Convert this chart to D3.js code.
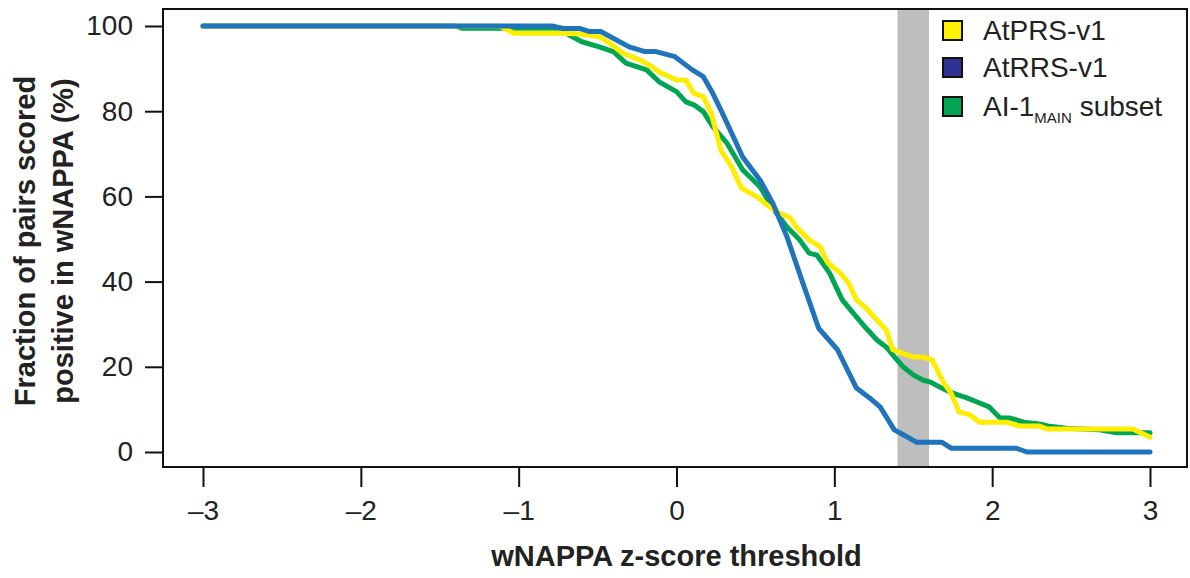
<!DOCTYPE html>
<html>
<head>
<meta charset="utf-8">
<script src="https://cdn.jsdelivr.net/npm/d3@7"></script>
<style>
  body { margin: 0; background: #fff; }
  svg { display: block; font-family: "Liberation Sans", Arial, Helvetica, sans-serif; }
</style>
</head>
<body>
<svg id="chart" width="1190" height="578"></svg>
<script>
// fraction of pairs scored positive (%) vs wNAPPA z-score threshold
var seriesNames = ["AtPRS-v1", "AtRRS-v1", "AI-1 subset"]
var legendColors = ["#fff200", "#2e3192", "#00a651"]
var lineColors = ["#ffed00", "#1f74bb", "#00a651"]

var xTicks = [-3, -2, -1, 0, 1, 2, 3]
var yTicks = [0, 20, 40, 60, 80, 100]
var band = [1.4, 1.6]

var atprs = [[-3,100],[-1.12,100],[-1.03,98.3],[-0.72,98.3],[-0.61,98.1],[-0.49,97.5],[-0.42,95.9],
  [-0.34,93.6],[-0.23,92],[-0.17,90.8],[-0.11,89.2],[0,87.3],[0.06,87.3],[0.11,84.2],[0.17,83.4],
  [0.22,79.6],[0.28,70.9],[0.35,66.9],[0.41,62],[0.51,59.9],[0.59,57.5],[0.65,56.1],[0.72,55],
  [0.76,52.8],[0.84,49.8],[0.91,48.2],[0.96,44.3],[1.03,42.3],[1.09,39.7],[1.14,35.7],[1.2,33.8],
  [1.27,31],[1.33,28.6],[1.37,24],[1.43,23.2],[1.5,22.3],[1.56,22.3],[1.62,21.6],[1.69,16.4],
  [1.74,13.8],[1.79,9.4],[1.86,8.7],[1.92,7],[2.09,7],[2.17,6.1],[2.3,6.1],[2.35,5.4],[2.89,5.4],[3,3.5]]

var atrrs = [[-3,100],[-0.79,100],[-0.72,99.4],[-0.61,99.4],[-0.55,98.7],[-0.48,98.7],[-0.41,97.3],
  [-0.3,95.1],[-0.2,94],[-0.13,94],[-0.01,92.8],[0.1,89.7],[0.17,88.1],[0.23,84.2],[0.29,79.6],
  [0.36,74],[0.42,69.2],[0.53,63.8],[0.61,58.4],[0.7,50.5],[0.8,39.7],[0.9,29.1],[1.02,24],
  [1.14,15],[1.24,12.2],[1.29,10.6],[1.33,8.2],[1.38,5.2],[1.44,4],[1.52,2.3],[1.68,2.3],
  [1.74,0.9],[2.15,0.9],[2.22,0],[3,0]]

var ai1 = [[-3,100],[-1.4,100],[-1.36,99.5],[-0.72,99.5],[-0.68,97.9],[-0.6,96.3],[-0.49,95.1],
  [-0.4,94],[-0.32,91.3],[-0.19,89.7],[-0.11,86.9],[0,84.6],[0.06,82.2],[0.11,81.5],[0.17,79.9],
  [0.23,76.4],[0.32,72.5],[0.42,66.2],[0.53,62.2],[0.61,57.2],[0.7,52.8],[0.78,49.8],[0.84,46.7],
  [0.89,46.2],[0.97,42],[1.05,35.7],[1.12,32.6],[1.2,29.1],[1.27,26.3],[1.33,24.6],[1.37,22.8],
  [1.43,20.2],[1.5,18.1],[1.56,16.9],[1.61,16.4],[1.68,15],[1.75,13.8],[1.84,12.7],[1.92,11.5],
  [1.98,10.6],[2.05,8],[2.11,8],[2.2,7],[2.3,6.6],[2.35,6.1],[2.47,5.6],[2.68,5.2],[2.79,4.5],[3,4.5]]

var svg = d3.select("#chart")

var frame = { left: 163, right: 1187, top: 9, bottom: 467 }

var x = d3.scaleLinear().domain([-3, 3]).range([203, 1150])
var y = d3.scaleLinear().domain([0, 100]).range([452, 26])

// threshold band
svg.append("rect")
  .attr("x", x(band[0]))
  .attr("y", frame.top)
  .attr("width", x(band[1]) - x(band[0]))
  .attr("height", frame.bottom - frame.top)
  .attr("fill", "#bebebe")

// lines: green first, then yellow, blue on top
var line = d3.line().x(d => x(d[0])).y(d => y(d[1]))
var drawOrder = [[ai1, 2], [atprs, 0], [atrrs, 1]]
drawOrder.forEach(function(s) {
  svg.append("path")
    .datum(s[0])
    .attr("d", line)
    .attr("fill", "none")
    .attr("stroke", lineColors[s[1]])
    .attr("stroke-width", 5)
    .attr("stroke-linejoin", "round")
    .attr("stroke-linecap", "round")
})

// box
svg.append("rect")
  .attr("x", frame.left)
  .attr("y", frame.top)
  .attr("width", frame.right - frame.left)
  .attr("height", frame.bottom - frame.top)
  .attr("fill", "none")
  .attr("stroke", "#111")
  .attr("stroke-width", 2)

var fmt = d => d < 0 ? "\u2013" + Math.abs(d) : String(d)

var xAxis = svg.append("g")
  .attr("transform", "translate(0," + frame.bottom + ")")
  .call(d3.axisBottom(x).tickValues(xTicks).tickFormat(fmt).tickSize(20).tickPadding(13))
xAxis.select(".domain").remove()

var yAxis = svg.append("g")
  .attr("transform", "translate(" + frame.left + ",0)")
  .call(d3.axisLeft(y).tickValues(yTicks).tickSize(18).tickPadding(12))
yAxis.select(".domain").remove()

svg.selectAll(".tick line").attr("stroke", "#111").attr("stroke-width", 2)
svg.selectAll(".tick text")
  .attr("fill", "#222")
  .style("font-size", "28px")
  .style("font-family", "'Liberation Sans', Arial, sans-serif")

// axis titles
svg.append("text")
  .attr("x", x(0))
  .attr("y", 566)
  .attr("text-anchor", "middle")
  .style("font-size", "29px")
  .style("font-weight", "bold")
  .attr("fill", "#222")
  .text("wNAPPA z-score threshold")

var yTitle = svg.append("text")
  .attr("transform", "translate(35,241) rotate(-90)")
  .attr("text-anchor", "middle")
  .style("font-size", "29px")
  .style("font-weight", "bold")
  .attr("fill", "#222")
yTitle.append("tspan").attr("x", 0).attr("y", 0).text("Fraction of pairs scored")
yTitle.append("tspan").attr("x", 0).attr("y", 38).text("positive in wNAPPA (%)")

// legend
var legend = svg.append("g").attr("transform", "translate(943,21)")
var items = legend.selectAll("g").data(seriesNames).enter().append("g")
  .attr("transform", (d, i) => "translate(0," + [0, 37, 76][i] + ")")
items.append("rect")
  .attr("width", 19).attr("height", 19)
  .attr("fill", (d, i) => legendColors[i])
  .attr("stroke", "#111").attr("stroke-width", 2)
var labels = items.append("text")
  .attr("x", 40).attr("y", 19)
  .style("font-size", "28px")
  .attr("fill", "#222")
labels.filter((d, i) => i < 2).text(d => d)
var ai = labels.filter((d, i) => i == 2)
ai.append("tspan").text("AI-1")
ai.append("tspan").attr("dy", 7).style("font-size", "15px").text("MAIN")
ai.append("tspan").attr("dy", -7).text(" subset")
</script>
</body>
</html>
